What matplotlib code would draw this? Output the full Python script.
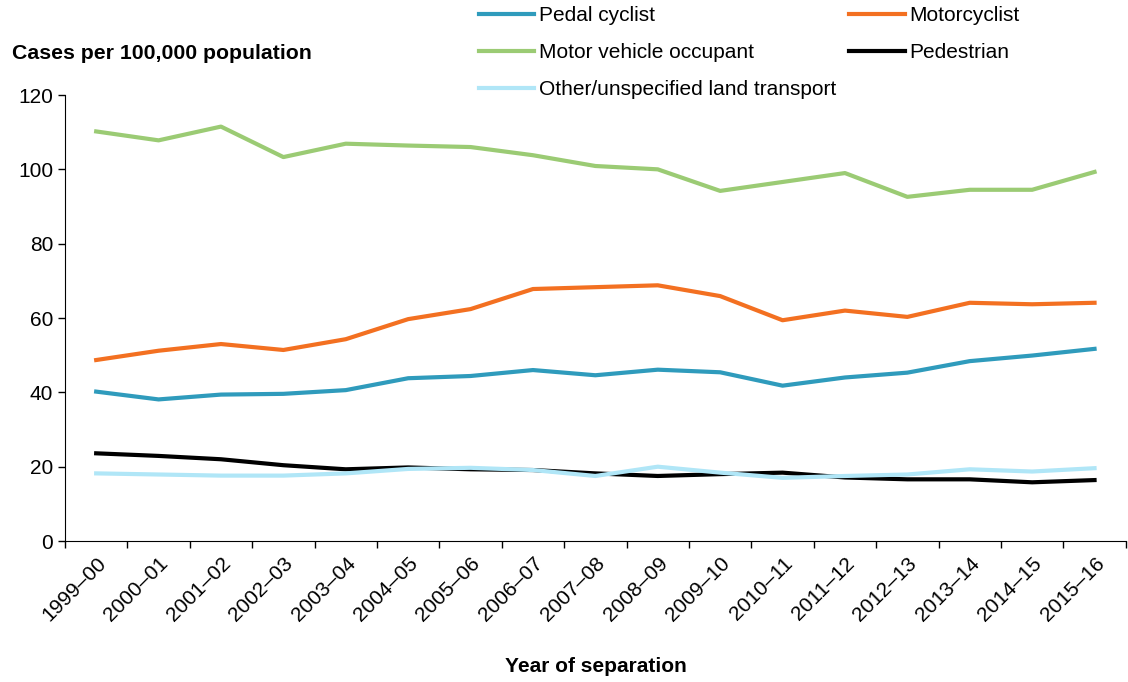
import matplotlib
matplotlib.use("Agg")
import matplotlib.pyplot as plt
import numpy as np

plt.rcParams['font.family'] = ['Liberation Sans', 'DejaVu Sans']

# Data
years = ["1999–00", "2000–01", "2001–02", "2002–03", "2003–04", "2004–05",
         "2005–06", "2006–07", "2007–08", "2008–09", "2009–10", "2010–11",
         "2011–12", "2012–13", "2013–14", "2014–15", "2015–16"]

pedal_cyclist = [40.2, 38.1, 39.4, 39.6, 40.6, 43.8, 44.4, 46.0, 44.6, 46.1,
                 45.4, 41.8, 44.0, 45.3, 48.4, 49.9, 51.7]
motorcyclist = [48.7, 51.2, 53.0, 51.4, 54.3, 59.7, 62.4, 67.8, 68.3, 68.8,
                65.9, 59.4, 62.0, 60.3, 64.1, 63.7, 64.1]
motor_vehicle = [110.2, 107.8, 111.5, 103.3, 106.9, 106.4, 106.0, 103.8, 100.9,
                 100.0, 94.2, 96.6, 99.0, 92.6, 94.5, 94.5, 99.3]
pedestrian = [23.6, 22.9, 22.0, 20.4, 19.3, 19.8, 19.3, 19.1, 18.2, 17.5,
              18.0, 18.4, 17.1, 16.6, 16.6, 15.8, 16.4]
other_land = [18.2, 17.9, 17.6, 17.6, 18.2, 19.4, 19.7, 19.1, 17.5, 20.0,
              18.4, 17.0, 17.5, 17.9, 19.3, 18.7, 19.6]

fig = plt.figure(figsize=(11.28, 6.82), dpi=100)
ax = fig.add_axes([0.0576, 0.2067, 0.9404, 0.654])

x = np.arange(len(years))
lw = 3
fs = 15
h_pedal, = ax.plot(x, pedal_cyclist, color='#2F9BBC', lw=lw, label='Pedal cyclist')
h_motor, = ax.plot(x, motorcyclist, color='#F37021', lw=lw, label='Motorcyclist')
h_mvo, = ax.plot(x, motor_vehicle, color='#9BCB74', lw=lw, label='Motor vehicle occupant')
h_ped, = ax.plot(x, pedestrian, color='black', lw=lw, label='Pedestrian')
h_other, = ax.plot(x, other_land, color='#B0E6F7', lw=lw, label='Other/unspecified land transport')

# Axes styling
ax.set_xlim(-0.5, len(years) - 0.5)
ax.set_ylim(0, 120)
ax.set_yticks(range(0, 121, 20))
ax.tick_params(axis='y', labelsize=fs, direction='out', length=5, width=1)
ax.set_xticks(x)
ax.set_xticklabels(years, rotation=45, ha='right', va='top', rotation_mode='anchor', fontsize=fs)
ax.tick_params(axis='x', which='major', length=0, pad=9)
ax.set_xticks(np.arange(-0.5, len(years)), minor=True)
ax.tick_params(axis='x', which='minor', direction='out', length=5, width=1)
ax.spines['top'].set_visible(False)
ax.spines['right'].set_visible(False)

fig.text(0.0106, 0.922, "Cases per 100,000 population", fontsize=15.3, fontweight='bold', va='center', ha='left')
fig.text(0.528, 0.022, "Year of separation", fontsize=fs, fontweight='bold', va='center', ha='center')

# Legend
fig.legend(handles=[h_pedal, h_mvo, h_other, h_motor, h_ped], ncol=2,
           loc='upper left', bbox_to_anchor=(0.423, 0.994), frameon=False,
           fontsize=fs, handlelength=2.65, handletextpad=0.2, columnspacing=0.65,
           labelspacing=0.87, borderpad=0.1, borderaxespad=0)

plt.savefig('out.png', dpi=100)
